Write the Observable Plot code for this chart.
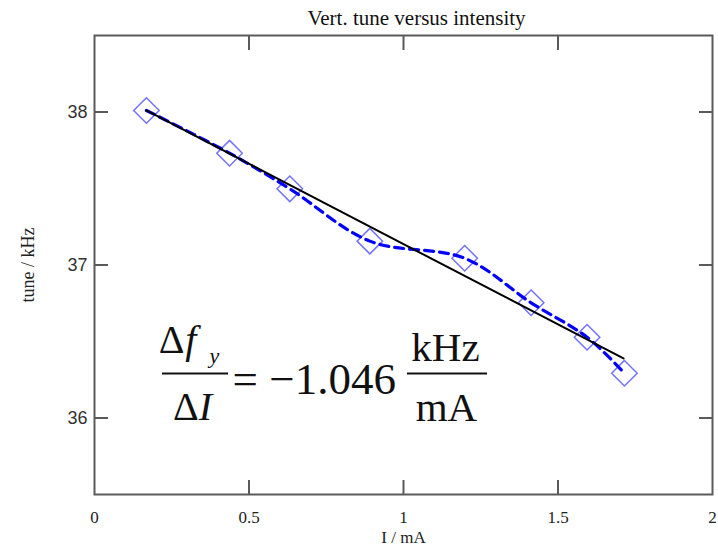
<!DOCTYPE html>
<html><head><meta charset="utf-8">
<script src="https://cdn.jsdelivr.net/npm/d3@7"></script>
<script src="https://cdn.jsdelivr.net/npm/@observablehq/plot@0.6"></script>
<style>body{margin:0;background:#fff}</style>
</head><body><div id="chart"></div>
<script>
// ---- data ----
const current = [0.168, 0.437, 0.632, 0.891, 1.198, 1.413, 1.594, 1.715];
const tune    = [38.010, 37.731, 37.498, 37.156, 37.044, 36.753, 36.528, 36.293];
const fitCurrent = [0.168, 1.712];
const fitTune    = [38.010, 36.389];
const xTicks = [0, 0.5, 1, 1.5, 2];
const yTicks = [36, 37, 38];
const title = "Vert. tune versus intensity";
const xLabel = "I / mA";
const yLabel = "tune / kHz";
const slope = -1.046;

// ---- build ----
const points = current.map((x, i) => ({x, y: tune[i]}));
const fit = fitCurrent.map((x, i) => ({x, y: fitTune[i]}));
const serif = "'Liberation Serif','Times New Roman',serif";
const axisCol = "#5a5a5a";
const innerX = xTicks.filter(d => d > 0 && d < 2);
const eqFill = "#111";

const chart = Plot.plot({
  width: 718, height: 553,
  marginLeft: 94, marginRight: 6, marginTop: 35, marginBottom: 59,
  x: {domain: [0, 2]},
  y: {domain: [35.5, 38.5]},
  style: {background: "white"},
  marks: [
    // inward ticks on all four sides
    Plot.axisX(innerX, {anchor: "bottom", tickSize: -14, stroke: axisCol, strokeWidth: 2, tickFormat: () => "", label: null}),
    Plot.axisX(innerX, {anchor: "top", tickSize: -14, stroke: axisCol, strokeWidth: 2, tickFormat: () => "", label: null}),
    Plot.axisY(yTicks, {anchor: "left", tickSize: -14, stroke: axisCol, strokeWidth: 2, tickFormat: () => "", label: null}),
    Plot.axisY(yTicks, {anchor: "right", tickSize: -14, stroke: axisCol, strokeWidth: 2, tickFormat: () => "", label: null}),
    // tick labels
    Plot.axisX(xTicks, {anchor: "bottom", tickSize: 0, tickPadding: 16, tickFormat: d => String(d), fontFamily: serif, fontSize: 17, fill: "#222", label: null}),
    Plot.axisY(yTicks, {anchor: "left", tickSize: 0, tickPadding: 7, tickFormat: d => String(d), fontFamily: "'Liberation Sans',sans-serif", fontSize: 18, fill: "#333", label: null}),
    Plot.frame({stroke: axisCol, strokeWidth: 2}),
    // data
    Plot.dot(points, {x: "x", y: "y", symbol: "diamond2", r: 11.5, stroke: "#7373ff", strokeWidth: 1.5, fill: "none"}),
    Plot.line(points, {x: "x", y: "y", curve: "catmull-rom", stroke: "#0000ff", strokeWidth: 3.2, strokeDasharray: "9,6"}),
    Plot.line(fit, {x: "x", y: "y", stroke: "black", strokeWidth: 2}),
    // equation annotation
    Plot.text(["Δ"], {x: 0.291, y: 36.507, textAnchor: "end", fontFamily: serif, fontSize: 40, fill: eqFill}),
    Plot.text(["f"], {x: 0.294, y: 36.507, textAnchor: "start", fontFamily: serif, fontStyle: "italic", fontSize: 40, fill: eqFill}),
    Plot.text(["y"], {x: 0.372, y: 36.408, textAnchor: "start", fontFamily: serif, fontStyle: "italic", fontSize: 22, fill: eqFill}),
    Plot.ruleY([36.291], {x1: 0.220, x2: 0.434, stroke: eqFill, strokeWidth: 2}),
    Plot.text(["Δ"], {x: 0.337, y: 36.069, textAnchor: "end", fontFamily: serif, fontSize: 40, fill: eqFill}),
    Plot.text(["I"], {x: 0.337, y: 36.069, textAnchor: "start", fontFamily: serif, fontStyle: "italic", fontSize: 40, fill: eqFill}),
    Plot.text(["= \u2212" + Math.abs(slope).toFixed(3)], {x: 0.447, y: 36.252, textAnchor: "start", fontFamily: serif, fontSize: 45, fill: eqFill}),
    Plot.text(["kHz"], {x: 1.136, y: 36.461, fontFamily: serif, fontSize: 41, fill: eqFill}),
    Plot.ruleY([36.291], {x1: 1.013, x2: 1.272, stroke: eqFill, strokeWidth: 2}),
    Plot.text(["mA"], {x: 1.139, y: 36.069, fontFamily: serif, fontSize: 41, fill: eqFill}),
    // titles
    Plot.text([title], {frameAnchor: "top", textAnchor: "middle", lineAnchor: "middle", dx: 13, dy: -17.4, fontFamily: serif, fontSize: 21, fill: "#111"}),
    Plot.text([xLabel], {frameAnchor: "bottom", textAnchor: "middle", lineAnchor: "middle", dy: 43.5, fontFamily: serif, fontSize: 17, fill: "#222"}),
    Plot.text([yLabel], {frameAnchor: "left", textAnchor: "middle", lineAnchor: "middle", rotate: -90, dx: -66, fontFamily: serif, fontSize: 18, fill: "#222"})
  ]
});
document.getElementById("chart").append(chart);
</script>
</body></html>
